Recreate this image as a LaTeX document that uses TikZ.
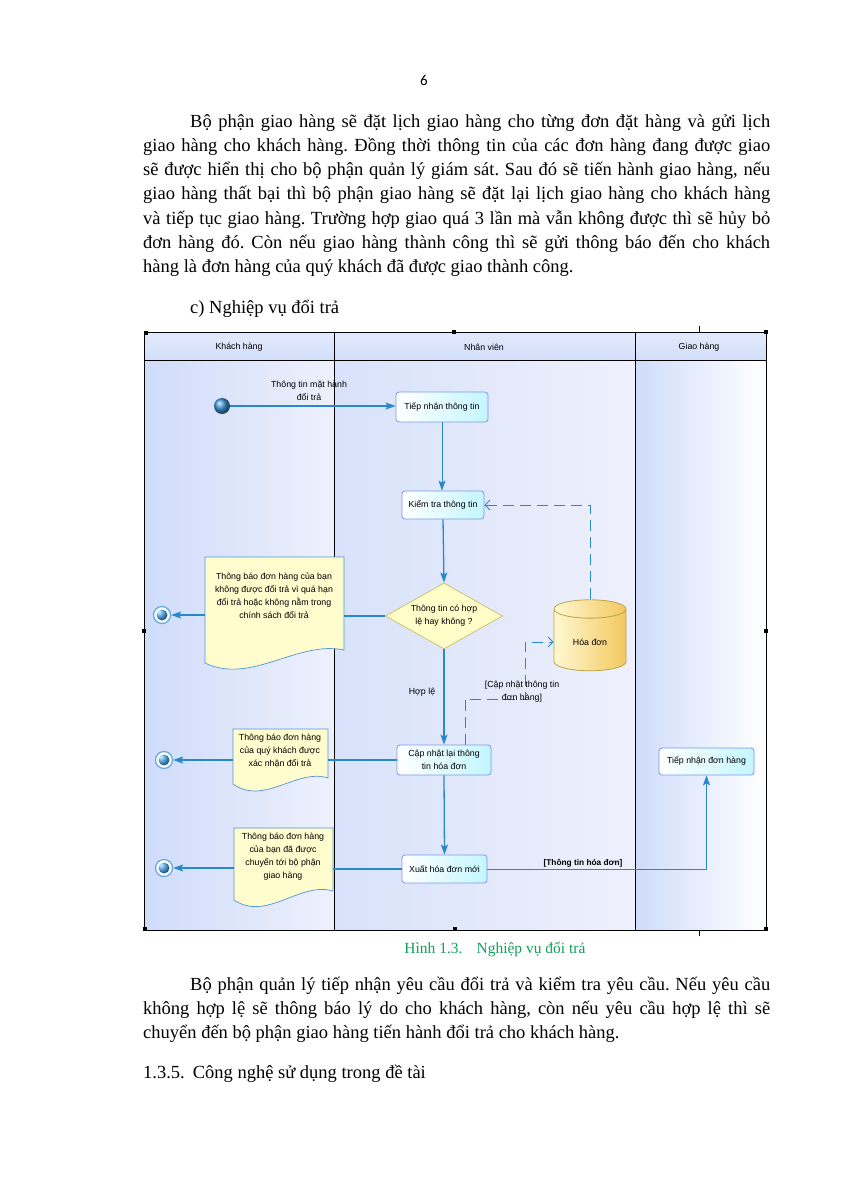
\documentclass[tikz,border=0pt]{standalone}
\usepackage{fontspec}
\setmainfont{Liberation Serif}
\newfontfamily\diagfont{Liberation Sans}
\newfontfamily\pagefont{Carlito}
\usetikzlibrary{shapes.geometric, arrows.meta, positioning}
\frenchspacing

\definecolor{flowblue}{RGB}{40,135,205}
\definecolor{ballblue}{RGB}{60,150,215}
\definecolor{boxedge}{RGB}{125,150,230}
\definecolor{boxcyan}{RGB}{195,246,255}
\definecolor{docfill}{RGB}{255,252,205}
\definecolor{docedge}{RGB}{80,150,215}
\definecolor{decfill}{RGB}{255,253,200}
\definecolor{decedge}{RGB}{205,195,110}
\definecolor{dbtop}{RGB}{255,248,210}
\definecolor{dbside}{RGB}{242,200,95}
\definecolor{dbedge}{RGB}{185,165,70}
\definecolor{lanedark}{RGB}{207,220,250}
\definecolor{lanemid}{RGB}{216,226,250}
\definecolor{lanelight}{RGB}{238,240,252}
\definecolor{headtop}{RGB}{228,234,252}
\definecolor{headfill}{RGB}{210,222,250}
\definecolor{capgreen}{RGB}{20,160,95}

% document symbol: left x, top y, right x, right-bottom y, left-bottom y
\newcommand{\docshape}[5]{%
  \filldraw[docline] (#1,#2) -- (#3,#2) -- (#3,#4)
    .. controls ({#3-0.33*(#3-#1)},{#4-10}) and ({#1+0.33*(#3-#1)},{#5+22}) .. (#1,#5) -- cycle;}

\begin{document}
\begin{tikzpicture}[
  x=1pt, y=-1pt,
  bodytext/.style={font=\fontsize{18.5}{24.2}\selectfont, text width=627pt, align=justify, inner sep=0pt},
  linetext/.style={font=\fontsize{18.5}{24.2}\selectfont, inner sep=0pt},
  dfont/.style={font=\diagfont\fontsize{8.8}{13}\selectfont},
  actbox/.style={rectangle, rounded corners=3pt, draw=boxedge, line width=0.8pt, left color=white, right color=boxcyan, dfont, align=center, inner sep=1pt},
  decision/.style={diamond, aspect=1.77, draw=decedge, line width=0.8pt, fill=decfill, minimum width=117pt, minimum height=66pt, inner sep=0pt, dfont, align=center},
  store/.style={cylinder, shape border rotate=90, aspect=0.45, draw=dbedge, line width=0.8pt, left color=dbtop, right color=dbside, minimum width=72pt, minimum height=71pt, dfont},
  docline/.style={draw=docedge, line width=0.7pt, fill=docfill},
  doctext/.style={dfont, align=center, inner sep=0pt},
  startnode/.style={circle, minimum size=16pt, inner sep=0pt, ball color=ballblue},
  endnode/.style={circle, draw=flowblue!70, line width=1.3pt, fill=white, minimum size=17pt, inner sep=0pt,
    path picture={\shade[ball color=ballblue] (path picture bounding box.center) circle (5.5pt);}},
  lbl/.style={dfont, align=center, inner sep=0pt},
  flow/.style={draw=flowblue, line width=1.3pt, -{Stealth[length=10pt, width=7pt, inset=2pt]}},
  flowthin/.style={draw=flowblue, line width=0.8pt, -{Stealth[length=10pt, width=7pt, inset=2pt]}},
  link/.style={draw=flowblue, line width=1.3pt},
  objflow/.style={draw=flowblue, line width=0.8pt, dash pattern=on 11pt off 6pt, -{Straight Barb[length=5pt, width=10pt]}},
  lanerule/.style={draw=black, line width=0.7pt},
  handle/.style={fill=black}
]
\useasboundingbox (0,0) rectangle (849,1200);
\fill[white] (0,0) rectangle (849,1200);

% page text
\node[font=\pagefont\fontsize{15}{17}\selectfont, anchor=base] (pageno) at (424,85) {6};
\node[bodytext, anchor=north west] (paraA) at (143,110.06) {\strut\hspace*{47pt}Bộ phận giao hàng sẽ đặt lịch giao hàng cho từng đơn đặt hàng và gửi lịch\linebreak
giao hàng cho khách hàng. Đồng thời thông tin của các đơn hàng đang được giao\linebreak
sẽ được hiển thị cho bộ phận quản lý giám sát. Sau đó sẽ tiến hành giao hàng, nếu\linebreak
giao hàng thất bại thì bộ phận giao hàng sẽ đặt lại lịch giao hàng cho khách hàng\linebreak
và tiếp tục giao hàng. Trường hợp giao quá 3 lần mà vẫn không được thì sẽ hủy bỏ\linebreak
đơn hàng đó. Còn nếu giao hàng thành công thì sẽ gửi thông báo đến cho khách\linebreak
hàng là đơn hàng của quý khách đã được giao thành công.};
\node[linetext, anchor=base west] (subhead) at (190,313) {c) Nghiệp vụ đổi trả};

% swimlanes
\shade[left color=lanedark, right color=lanelight] (144,360) rectangle (334,930);
\shade[left color=lanemid, right color=lanelight] (334,360) rectangle (635,930);
\shade[left color=lanedark, right color=white] (635,360) rectangle (766,930);
\shade[top color=headtop, bottom color=headfill] (144,332) rectangle (766,360);
\draw[lanerule] (144,332) rectangle (766,930);
\draw[lanerule] (334,332) -- (334,930);
\draw[lanerule] (635,332) -- (635,930);
\draw[lanerule] (144,360) -- (766,360);
\foreach \hx/\hy in {146/333, 454/332, 766/332, 144/631, 766/631, 145/929, 455/929, 766/929}
  \fill[handle] (\hx-2,\hy-2) rectangle (\hx+2,\hy+2);
\foreach \hx/\hy in {699/329, 699/933}
  \fill[handle] (\hx-0.5,\hy-3) rectangle (\hx+0.5,\hy+3);
\node[lbl] (laneA) at (239,347) {Khách hàng};
\node[lbl] (laneB) at (484,347) {Nhân viên};
\node[lbl] (laneC) at (699,347) {Giao hàng};

% document symbols
\docshape{205}{557}{344}{650}{663}
\docshape{233}{729}{328}{778}{784}
\docshape{234}{828}{333}{891}{900}
\coordinate (rejR) at (344,616);
\coordinate (rejL) at (205,615);
\coordinate (okR) at (328,760);
\coordinate (okL) at (233,760);
\coordinate (sentR) at (333,869);
\coordinate (sentL) at (234,868);
\node[doctext] (rejtext) at (274,596) {Thông báo đơn hàng của bạn\\không được đổi trả vì quá hạn\\đổi trả hoặc không nằm trong\\chính sách đổi trả};
\node[doctext] (oktext) at (280,751) {Thông báo đơn hàng\\của quý khách được\\xác nhận đổi trả};
\node[doctext] (senttext) at (283,857) {Thông báo đơn hàng\\của bạn đã được\\chuyển tới bộ phận\\giao hàng};

% activities
\node[startnode] (start) at (222,406) {};
\node[actbox, minimum width=92pt, minimum height=30pt] (recv) at (442,407) {Tiếp nhận thông tin};
\node[actbox, minimum width=82pt, minimum height=28pt] (check) at (443,505) {Kiểm tra thông tin};
\node[decision] (dec) at (444,616) {Thông tin có hợp\\lệ hay không ?};
\node[store] (inv) at (590,642) {Hóa đơn};
\node[actbox, minimum width=94pt, minimum height=30pt] (upd) at (444,760) {Cập nhật lại thông\\tin hóa đơn};
\node[actbox, minimum width=85pt, minimum height=28pt] (exp) at (444.5,869) {Xuất hóa đơn mới};
\node[actbox, minimum width=95pt, minimum height=27pt] (ship) at (706.5,761.5) {Tiếp nhận đơn hàng};
\node[endnode] (endA) at (162,615) {};
\node[endnode] (endB) at (164,760) {};
\node[endnode] (endC) at (164,868) {};

% flows
\draw[flow] (start) -- (start -| recv.west);
\node[lbl] (infolbl) at (309,391) {Thông tin mặt hành\\đổi trả};
\draw[flowthin] (recv.south) -- (recv.south |- check.north);
\draw[flow] (check.south) -- (dec.north);
\draw[link] (dec.west) -- (rejR);
\draw[flow] (rejL) -- (endA);
\draw[flow] (dec.south) -- (upd.north);
\node[lbl] (oklbl) at (422,692) {Hợp lệ};
\draw[link] (upd.west) -- (okR);
\draw[flow] (okL) -- (endB);
\draw[flow] (upd.south) -- (exp.north);
\draw[link] (exp.west) -- (sentR);
\draw[flow] (sentL) -- (endC);
\draw[flowthin] (exp.east) -| (ship.south);
\node[lbl, font=\diagfont\bfseries\fontsize{8.3}{10}\selectfont] (billlbl) at (583,863) {[Thông tin hóa đơn]};
\coordinate (bend) at (525,699);
\draw[objflow] ([xshift=21pt]upd.north) |- (bend) |- (inv.west);
\node[lbl] (updlbl) at (522,692) {[Cập nhật thông tin\\đơn hàng]};
\draw[objflow] (inv.north) |- (check.east);

% caption and closing text
\node[linetext, font=\fontsize{15.5}{18}\selectfont, text=capgreen, anchor=base] (cap) at (495,953) {Hình 1.3.\hspace{14pt}Nghiệp vụ đổi trả};
\node[bodytext, anchor=north west] (paraB) at (143,973.06) {\strut\hspace*{47pt}Bộ phận quản lý tiếp nhận yêu cầu đổi trả và kiểm tra yêu cầu. Nếu yêu cầu\linebreak
không hợp lệ sẽ thông báo lý do cho khách hàng, còn nếu yêu cầu hợp lệ thì sẽ\linebreak
chuyển đến bộ phận giao hàng tiến hành đổi trả cho khách hàng.};
\node[linetext, anchor=base west] (sect) at (143,1078) {1.3.5.\hspace{8pt}Công nghệ sử dụng trong đề tài};
\end{tikzpicture}
\end{document}
